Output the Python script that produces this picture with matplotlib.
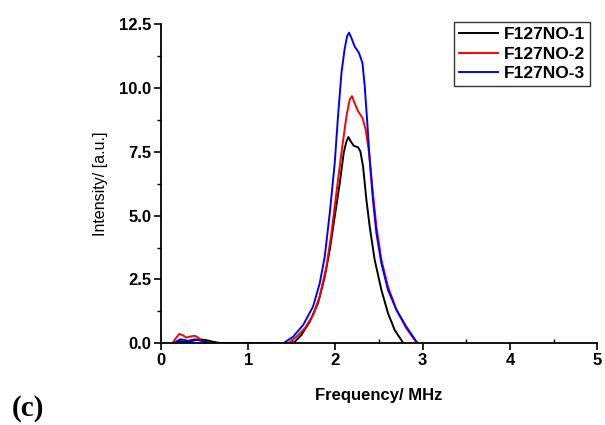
import matplotlib
matplotlib.use("Agg")
import matplotlib.pyplot as plt
from matplotlib.ticker import MultipleLocator

# Data
labels = ["F127NO-1", "F127NO-2", "F127NO-3"]
colors = ["black", "red", "blue"]

x1 = [0.14, 0.18, 0.22, 0.27, 0.31, 0.36, 0.42, 0.47, 0.53, 0.59, 0.65, 0.71,
      1.515, 1.61, 1.706, 1.80, 1.878, 1.935, 1.992, 2.05, 2.095, 2.126, 2.149,
      2.176, 2.21, 2.26, 2.286, 2.317, 2.355, 2.393, 2.45, 2.527, 2.603, 2.68,
      2.756, 2.78]
y1 = [0.0, 0.06, 0.09, 0.06, 0.05, 0.10, 0.15, 0.15, 0.12, 0.07, 0.03, 0.0,
      0.0, 0.33, 0.85, 1.57, 2.61, 3.66, 4.96, 6.27, 7.45, 7.90, 8.07,
      7.90, 7.73, 7.67, 7.51, 6.92, 5.62, 4.57, 3.27, 2.09, 1.18, 0.52,
      0.13, 0.0]

x2 = [0.13, 0.17, 0.21, 0.25, 0.29, 0.34, 0.39, 0.43, 0.47, 0.52, 0.58,
      1.458, 1.553, 1.649, 1.744, 1.82, 1.897, 1.954, 2.011, 2.069, 2.126, 2.164,
      2.19, 2.22, 2.26, 2.31, 2.347, 2.386, 2.43, 2.47, 2.527, 2.603, 2.70, 2.813,
      2.909, 2.94]
y2 = [0.0, 0.20, 0.37, 0.32, 0.23, 0.27, 0.30, 0.22, 0.10, 0.04, 0.0,
      0.0, 0.26, 0.59, 1.11, 1.83, 3.00, 4.31, 5.88, 7.45, 8.88, 9.54,
      9.67, 9.40, 9.08, 8.82, 8.36, 7.45, 5.88, 4.57, 3.27, 2.22, 1.31, 0.59,
      0.13, 0.0]

x3 = [0.15, 0.19, 0.22, 0.26, 0.31, 0.35, 0.39, 0.44, 0.50, 0.55, 0.60,
      1.40, 1.515, 1.63, 1.744, 1.82, 1.878, 1.935, 1.992, 2.03, 2.07, 2.105, 2.134,
      2.157, 2.183, 2.22, 2.27, 2.31, 2.336, 2.363, 2.393, 2.43, 2.47, 2.527,
      2.603, 2.70, 2.813, 2.928, 2.947]
y3 = [0.0, 0.10, 0.16, 0.14, 0.10, 0.13, 0.16, 0.12, 0.07, 0.03, 0.0,
      0.0, 0.26, 0.72, 1.44, 2.35, 3.40, 5.09, 7.05, 8.90, 10.60, 11.50, 12.02,
      12.15, 11.95, 11.62, 11.36, 10.97, 10.06, 8.75, 7.18, 5.62, 4.31, 3.13,
      2.09, 1.31, 0.65, 0.07, 0.0]

xticks = [0, 1, 2, 3, 4, 5]
yticks = [0.0, 2.5, 5.0, 7.5, 10.0, 12.5]

plt.rcParams['font.family'] = ['Liberation Sans', 'DejaVu Sans']

fig = plt.figure(figsize=(6.05, 4.25), dpi=100)
ax = fig.add_axes([0.266, 0.192, 0.721, 0.752])

for xs, ys, c, lab in zip([x1, x2, x3], [y1, y2, y3], colors, labels):
    ax.plot(xs, ys, color=c, lw=1.4, label=lab, solid_joinstyle='round')

ax.set_xlim(0, 5)
ax.set_ylim(0, 12.5)
ax.set_xticks(xticks)
ax.set_yticks(yticks)
ax.set_xticklabels([str(v) for v in xticks], fontweight='bold', fontsize=12)
ax.set_yticklabels([f"{v:.1f}" for v in yticks], fontweight='bold', fontsize=12)
ax.xaxis.set_minor_locator(MultipleLocator(0.5))
ax.yaxis.set_minor_locator(MultipleLocator(1.25))
ax.tick_params(axis='x', which='major', direction='out', length=5, width=1.2, pad=2)
ax.tick_params(axis='x', which='minor', direction='in', length=3, width=1.0)
ax.tick_params(axis='y', which='major', direction='out', length=5, width=1.2, pad=2)
ax.tick_params(axis='y', which='minor', direction='out', length=3, width=1.0)
for s in ['top', 'right']:
    ax.spines[s].set_visible(False)
for s in ['left', 'bottom']:
    ax.spines[s].set_linewidth(1.3)

ax.set_xlabel("Frequency/ MHz", fontsize=12, fontweight='bold', labelpad=14)
ax.set_ylabel("Intensity/ [a.u.]", fontsize=11.5, labelpad=8)

leg = ax.legend(loc='upper right', bbox_to_anchor=(0.984, 1.006), frameon=True,
                fancybox=False, edgecolor='black',
                prop={'weight': 'bold', 'size': 12.5}, handlelength=2.2,
                handletextpad=0.35, borderpad=0.3, labelspacing=0.25,
                borderaxespad=0.0)
leg.get_frame().set_linewidth(1.0)

fig.text(0.02, 0.022, "(c)", fontsize=21, fontweight='bold', va='baseline',
         family=['Liberation Serif', 'DejaVu Serif'])

fig.savefig("out.png", dpi=100)
